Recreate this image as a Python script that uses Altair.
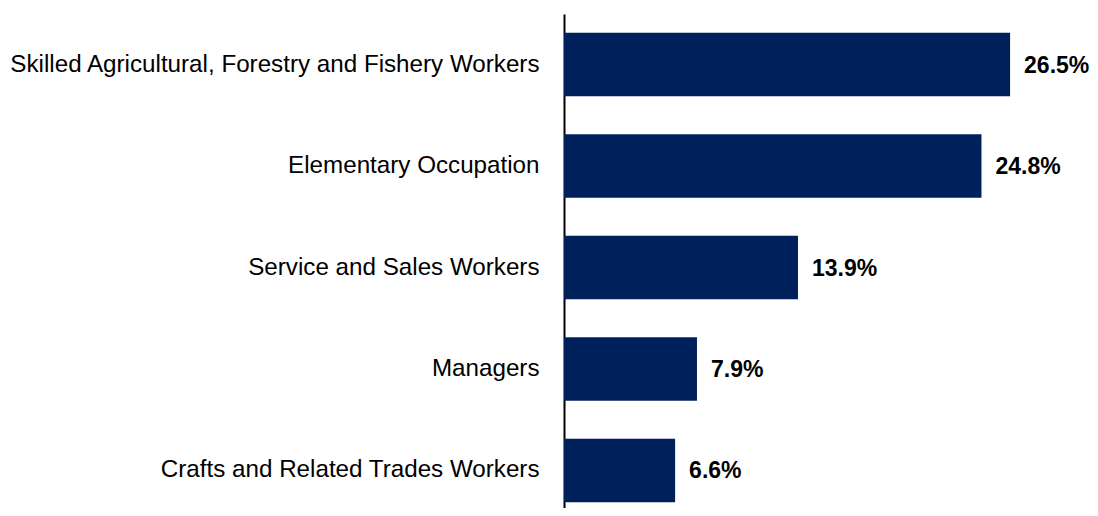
import altair as alt
import pandas as pd

categories = [
    "Skilled Agricultural, Forestry and Fishery Workers",
    "Elementary Occupation",
    "Service and Sales Workers",
    "Managers",
    "Crafts and Related Trades Workers",
]
values = [26.5, 24.8, 13.9, 7.9, 6.6]
value_labels = ["26.5%", "24.8%", "13.9%", "7.9%", "6.6%"]

df = pd.DataFrame({"cat": categories, "val": values, "lab": value_labels})

y_enc = alt.Y(
    "cat:N",
    sort=categories,
    scale=alt.Scale(range=[0, 507], paddingInner=0.374, paddingOuter=0.186),
    axis=alt.Axis(
        title=None,
        ticks=False,
        domainColor="#000000",
        domainWidth=2,
        labelFont="Liberation Sans",
        labelFontSize=24.2,
        labelColor="#000000",
        labelPadding=25,
        labelLimit=0,
        grid=False,
    ),
)
x_enc = alt.X("val:Q", scale=alt.Scale(domain=[0, 30]), axis=None)

bars = alt.Chart(df).mark_bar(color="#00205B").encode(x=x_enc, y=y_enc)
text = alt.Chart(df).mark_text(
    align="left", baseline="middle", dx=14, dy=1,
    font="Liberation Sans", fontSize=23, fontWeight="bold", color="#000000",
    clip=False,
).encode(x=x_enc, y=alt.Y("cat:N", sort=categories), text="lab:N")

chart = (
    alt.layer(bars, text)
    .properties(
        width=505,
        height=494,
        autosize=alt.AutoSizeParams(type="none"),
        padding={"left": 556, "top": 6, "right": 21, "bottom": 0},
        view=alt.ViewBackground(stroke="transparent", strokeWidth=0),
    )
    .configure_view(stroke="transparent", strokeWidth=0)
    .configure(background="#ffffff")
)

chart.save("out.html", embed_options={"renderer": "svg", "actions": False})
